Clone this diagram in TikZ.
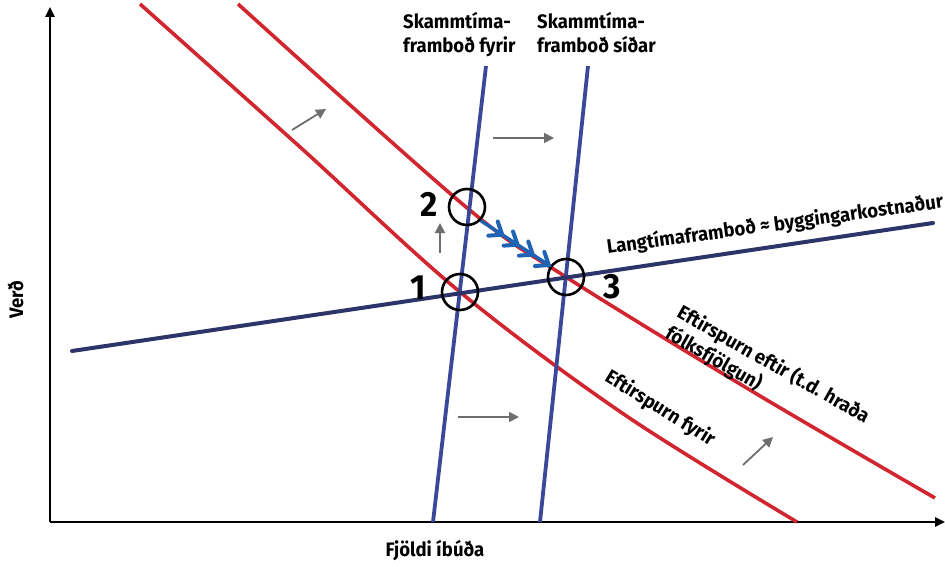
\documentclass[tikz,border=0pt]{standalone}
\usepackage{fontspec}
\setmainfont{Fira Sans}[FakeStretch=0.95]
\usetikzlibrary{arrows.meta}
\definecolor{dred}{HTML}{D1262F}
\definecolor{sblue}{HTML}{3A4899}
\definecolor{lblue}{HTML}{2C3468}
\definecolor{cblue}{HTML}{1F63B5}
\definecolor{gar}{HTML}{6E6E6E}
\tikzset{
  axis/.style={line width=2.4pt,-{Triangle[length=10pt,width=9pt]}},
  demand/.style={dred,line width=3.6pt},
  srsupply/.style={sblue,line width=3.8pt},
  lrsupply/.style={lblue,line width=4pt,line cap=round},
  eqcircle/.style={circle,draw=black,line width=2.6pt,minimum size=36pt,inner sep=0pt},
  eqnum/.style={font=\fontsize{35}{35}\selectfont\bfseries,inner sep=0pt},
  lab/.style={font=\fontsize{19.5}{24}\selectfont\bfseries,inner sep=0pt,align=left},
  shiftarrow/.style={gar,line width=1.8pt,-{Triangle[length=10pt,width=10pt]}},
  chevline/.style={cblue,line width=3.4pt},
  chevron/.style={cblue,line width=4pt,line cap=round,line join=miter}
}
\newcommand{\chevat}[1]{\draw[chevron,shift={(#1)},rotate=-33.5] (-11pt,-8.5pt) -- (0pt,0pt) -- (-11pt,8.5pt);}
\begin{document}
\begin{tikzpicture}[x=1pt,y=-1pt]
\useasboundingbox (0,0) rectangle (945,567);
% axes
\coordinate (O) at (50,522);
\coordinate (ytop) at (50,7);
\coordinate (xend) at (945,522);
\draw[axis] (O) -- (ytop);
\draw[axis] (O) -- (xend);
\node[lab,rotate=90] (yl) at (15.5,300) {Verð};
\node[lab] (xl) at (435,551) {Fjöldi íbúða};
% demand curves
\draw[demand] plot[smooth,tension=0.55] coordinates {(140,4) (300,147) (460,292) (625,415) (797,522)};
\draw[demand] plot[smooth,tension=0.55] coordinates {(238,4) (466,207) (566,277) (750,390) (935,498)};
% short-run supply
\draw[srsupply] (433,522) -- (486,66);
\draw[srsupply] (540,522) -- (588,66);
% long-run supply
\draw[lrsupply] (72,351) -- (933,223);
% equilibrium circles
\node[eqcircle] (c1) at (460,292) {};
\node[eqcircle] (c2) at (467,207) {};
\node[eqcircle] (c3) at (566,277) {};
\node[eqnum] (n1) at (418,288) {1};
\node[eqnum] (n2) at (429,204) {2};
\node[eqnum] (n3) at (612,287) {3};
% chevron path
\draw[chevline] (c2.-45) -- (c3.145)
  coordinate[pos=0.31] (k1) coordinate[pos=0.53] (k2)
  coordinate[pos=0.75] (k3) coordinate[pos=0.98] (k4);
\chevat{k1}\chevat{k2}\chevat{k3}\chevat{k4}
% shift arrows
\coordinate (a1s) at (292,130); \coordinate (a1e) at (326,109);
\coordinate (a2s) at (493,138); \coordinate (a2e) at (554,138);
\coordinate (a3s) at (440,253); \coordinate (a3e) at (440,223);
\coordinate (a4s) at (458,417); \coordinate (a4e) at (519,417);
\coordinate (a5s) at (743,465); \coordinate (a5e) at (773,437);
\draw[shiftarrow] (a1s) -- (a1e);
\draw[shiftarrow] (a2s) -- (a2e);
\draw[shiftarrow] (a3s) -- (a3e);
\draw[shiftarrow] (a4s) -- (a4e);
\draw[shiftarrow] (a5s) -- (a5e);
% labels
\node[lab,anchor=north west] (sr1) at (403,12) {Skammtíma-\\framboð fyrir};
\node[lab,anchor=north west] (sr2) at (537,12) {Skammtíma-\\framboð síðar};
\node[lab,rotate=7.8] (lr) at (775,225) {Langtímaframboð ≈ byggingarkostnaður};
\node[lab,anchor=north west,rotate=-29.5] (d2) at (684,302) {Eftirspurn eftir (t.d. hraða\\fólksfjölgun)};
\node[lab,anchor=north west,rotate=-31.5] (d1) at (612,367) {Eftirspurn fyrir};
\end{tikzpicture}
\end{document}
